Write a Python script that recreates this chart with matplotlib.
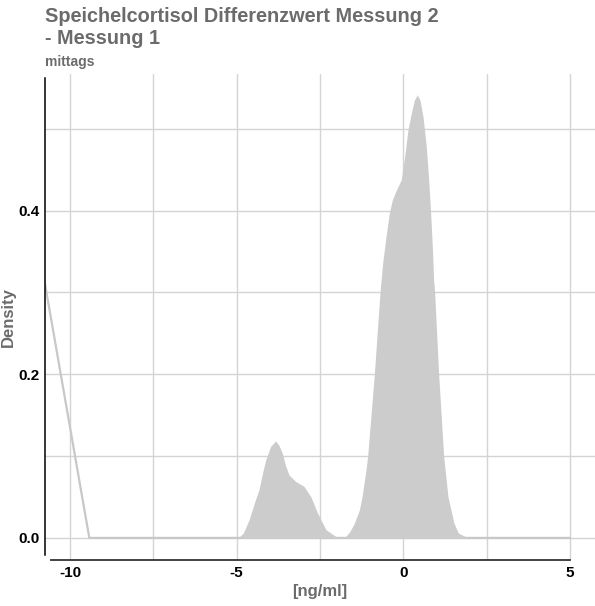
import numpy as np  # arrays
from matplotlib import pyplot as plt  # graficos
from matplotlib.ticker import MultipleLocator

plt.rcParams['font.family'] = ['Liberation Sans', 'DejaVu Sans']

# Dichte
dichte_x = [-5.0, -4.9, -4.8, -4.63, -4.45, -4.33, -4.22, -4.13, -3.98, -3.83,
            -3.73, -3.63, -3.53, -3.43, -3.23, -2.98, -2.77, -2.57, -2.32, -2.02,
            -1.87, -1.72, -1.60, -1.47, -1.32, -1.24, -1.12, -1.07, -0.87, -0.70,
            -0.62, -0.52, -0.42, -0.33, -0.21, -0.06, 0.04, 0.14, 0.24, 0.33,
            0.42, 0.50, 0.59, 0.69, 0.76, 0.82, 0.87, 0.91, 0.94, 1.06,
            1.21, 1.34, 1.52, 1.65, 1.84, 2.0]
dichte_y = [0.0, 0.002, 0.006, 0.022, 0.045, 0.059, 0.080, 0.095, 0.112, 0.1186,
            0.113, 0.1035, 0.088, 0.077, 0.069, 0.063, 0.050, 0.030, 0.010, 0.0016,
            0.0, 0.002, 0.008, 0.018, 0.034, 0.050, 0.083, 0.100, 0.200, 0.300,
            0.336, 0.368, 0.397, 0.413, 0.425, 0.438, 0.466, 0.499, 0.519, 0.535,
            0.5416, 0.535, 0.515, 0.478, 0.438, 0.397, 0.356, 0.315, 0.300, 0.200,
            0.100, 0.050, 0.018, 0.006, 0.002, 0.0]

# die schraege Linie links + Grundlinie
linie_x = [-10.78, -9.42, 5.0]
linie_y = [0.3175, 0.0, 0.0]

x_ticks = [-10, -5, 0, 5]
y_ticks = [0.0, 0.2, 0.4]

grau = '#6b6b6b'

fig = plt.figure(figsize=(5.95, 6.06), dpi=100)
ax = fig.add_axes([0.0756, 0.0759, 0.9244, 0.802])

ax.set_xlim(-10.75, 5.75)
ax.set_ylim(-0.027, 0.567)

# Gitter
ax.xaxis.set_major_locator(MultipleLocator(5))
ax.xaxis.set_minor_locator(MultipleLocator(2.5))
ax.yaxis.set_major_locator(MultipleLocator(0.2))
ax.yaxis.set_minor_locator(MultipleLocator(0.1))
ax.grid(True, which='both', color='#d4d4d4', linewidth=1.0)
ax.set_axisbelow(True)

ax.plot(linie_x, linie_y, color='#c8c8c8', linewidth=1.6, zorder=2)
ax.fill_between(dichte_x, dichte_y, 0, color='#cccccc', linewidth=0, zorder=3)

ax.set_xticks(x_ticks)
ax.set_yticks(y_ticks)
ax.set_xticklabels([str(t) for t in x_ticks], fontweight='bold', fontsize=11)
ax.set_yticklabels(['%.1f' % t for t in y_ticks], fontweight='bold', fontsize=11)
ax.tick_params(which='both', length=0)
ax.tick_params(axis='y', pad=4)
ax.tick_params(axis='x', pad=4)

for s in ['top', 'right']:
    ax.spines[s].set_visible(False)
ax.spines['left'].set_bounds(-0.021, 0.562)
ax.spines['bottom'].set_bounds(-10.57, 5.0)
ax.spines['left'].set_linewidth(1.1)
ax.spines['bottom'].set_linewidth(1.3)
ax.spines['bottom'].set_color('#333333')

ax.set_xlabel('[ng/ml]', fontweight='bold', fontsize=12, color=grau, labelpad=3)
ax.set_ylabel('Density', fontweight='bold', fontsize=12, color=grau)
ax.yaxis.set_label_coords(-0.053, 0.5)

# Titel
fig.text(0.0756, 0.988, 'Speichelcortisol Differenzwert Messung 2\n- Messung 1',
         fontweight='bold', fontsize=14.3, color=grau, ha='left', va='top',
         linespacing=1.15)
fig.text(0.0756, 0.891, 'mittags', fontweight='bold', fontsize=10, color=grau,
         ha='left', va='baseline')

fig.savefig('out.png', dpi=100)
